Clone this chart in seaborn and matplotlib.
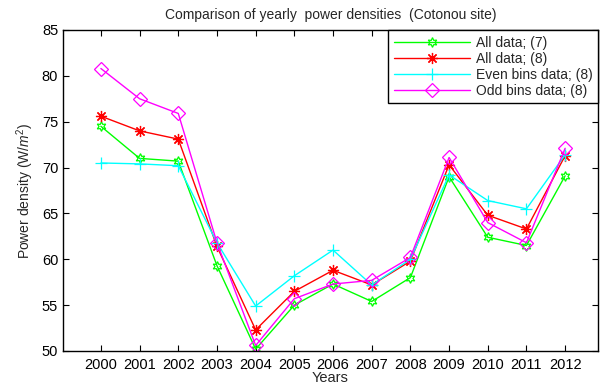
import matplotlib
matplotlib.use("Agg")
import matplotlib.pyplot as plt
import seaborn as sns
import pandas as pd

years = [2000, 2001, 2002, 2003, 2004, 2005, 2006, 2007, 2008, 2009, 2010, 2011, 2012]
all7 = [74.5, 71.0, 70.7, 59.3, 50.2, 55.0, 57.3, 55.4, 58.0, 69.0, 62.4, 61.5, 69.1]
all8 = [75.6, 74.0, 73.1, 61.4, 52.3, 56.5, 58.8, 57.2, 59.8, 70.3, 64.8, 63.3, 71.3]
even8 = [70.5, 70.4, 70.2, 61.8, 54.9, 58.2, 61.0, 57.2, 60.0, 69.2, 66.4, 65.5, 71.4]
odd8 = [80.8, 77.5, 75.9, 61.8, 50.6, 55.7, 57.3, 57.7, 60.2, 71.1, 64.0, 61.8, 72.1]
labels = ["All data; (7)", "All data; (8)", "Even bins data; (8)", "Odd bins data; (8)"]

sns.set_style("ticks")
plt.rcParams['font.family'] = ['Liberation Sans', 'DejaVu Sans']
plt.rcParams['mathtext.fontset'] = 'custom'
plt.rcParams['mathtext.it'] = 'Liberation Sans:italic'
plt.rcParams['mathtext.rm'] = 'Liberation Sans'

fig = plt.figure(figsize=(6.0, 3.83), dpi=100)
ax = fig.add_axes([0.105, 0.0836, 0.8917, 0.8381])

series = [all7, all8, even8, odd8]
colors = ["#00ff00", "#ff0000", "#00ffff", "#ff00ff"]
markers = [(6, 1, 0), (8, 2, 0), "+", "D"]
msizes = [7, 8, 9, 7]

for vals, lab, c, m, ms in zip(series, labels, colors, markers, msizes):
    df = pd.DataFrame({"Year": years, "Value": vals})
    sns.lineplot(data=df, x="Year", y="Value", ax=ax, color=c, marker=m,
                 markersize=ms, markerfacecolor="none", markeredgecolor=c,
                 markeredgewidth=0.9, linewidth=1.0, label=lab)

ax.set_xlim(1999.02, 2012.85)
ax.set_ylim(50, 85)
ax.set_xticks(years)
ax.set_xticklabels([str(y) for y in years])
ax.set_yticks([50, 55, 60, 65, 70, 75, 80, 85])
ax.tick_params(direction="in", top=True, right=True, labelsize=10.5, length=4, width=0.8, colors="black")
ax.tick_params(axis="x", pad=5)
for s in ax.spines.values():
    s.set_color("black")
    s.set_linewidth(1.0)

ax.set_title("Comparison of yearly  power densities  (Cotonou site)", fontsize=10, pad=8)
ax.set_xlabel("Years", fontsize=10.5, labelpad=-1)
ax.set_ylabel("Power density (W/$m^2$)", fontsize=10, labelpad=4)

leg = ax.legend(loc="upper right", fancybox=False, edgecolor="black", framealpha=1,
                fontsize=10, borderaxespad=0, handlelength=5.5, labelspacing=0.15,
                borderpad=0.4, handletextpad=0.4)
leg.get_frame().set_linewidth(1.0)

fig.savefig("out.png", dpi=100)
